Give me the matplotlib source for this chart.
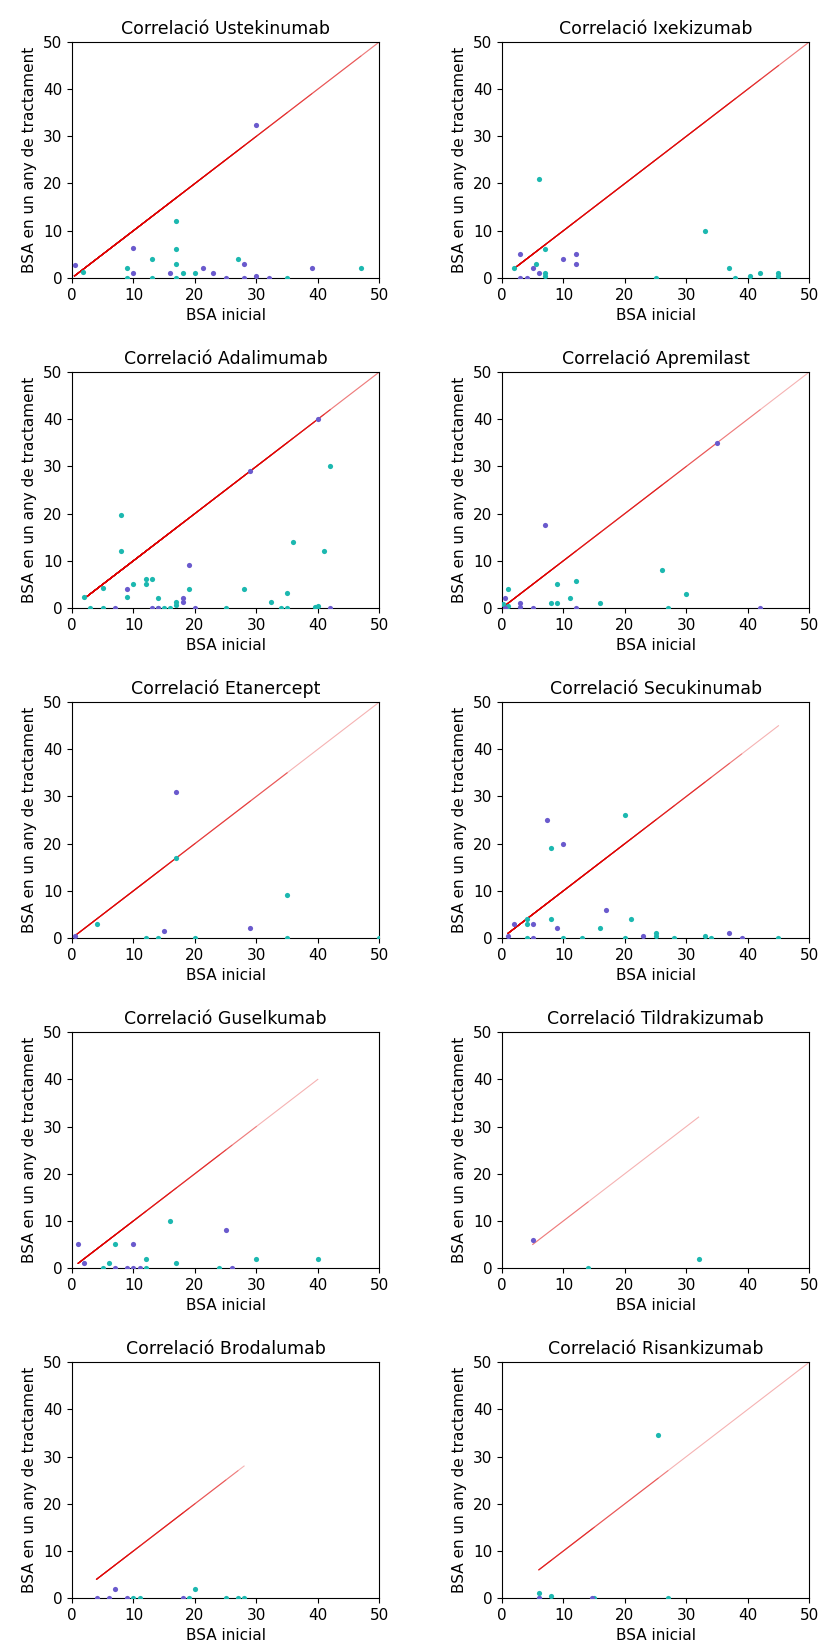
import numpy as np
import matplotlib.pyplot as plt

nan = np.nan

# (x = BSA inicial, y = BSA en un any de tractament), two groups per drug
titles = ["Ustekinumab", "Ixekizumab", "Adalimumab", "Apremilast", "Etanercept",
          "Secukinumab", "Guselkumab", "Tildrakizumab", "Brodalumab", "Risankizumab"]

ust_px = [0.4, 10, 10, 16, 21.3, 23, 25, 28, 28, 30, 30, 32, 39]
ust_py = [2.7, 6.3, 1, 1, 2.1, 1, 0, 3, 0, 32.5, 0.4, 0, 2]
ust_tx = [1.8, 9, 9, 13, 13, 17, 17, 17, 17, 18, 20, 27, 35, 47, 50, 50]
ust_ty = [1.2, 2, 0, 4, 0, 12, 6, 3, 0, 1, 1, 4, 0, 2, nan, nan]

ixe_px = [3, 3, 4, 5, 6, 10, 12, 12]
ixe_py = [5, 0, 0, 2, 1, 4, 5, 3]
ixe_tx = [2, 5.5, 6, 7, 7, 7, 25, 33, 37, 38, 40.4, 42, 45, 45, 50, 50]
ixe_ty = [2, 3, 21, 6, 1, 0.4, 0, 10, 2, 0, 0.4, 1, 1, 0.4, nan, nan]

ada_px = [9, 7, 13, 14, 18, 18, 19, 20, 29, 40, 42]
ada_py = [4.1, 0, 0, 0, 2.1, 1.2, 9.1, 0, 29, 40, 0]
ada_tx = [2, 3, 5, 5, 8, 8, 9, 10, 12, 12, 13, 14, 14, 15, 16, 17, 17, 19, 25,
          28, 32.4, 34, 35, 35, 36, 39.5, 40, 41, 42, 50, 50]
ada_ty = [2.2, 0, 4.3, 0, 19.6, 12.1, 2.2, 5.1, 6.1, 5.1, 6.1, 2.1, 0, 0, 0, 1.2,
          0.5, 4.1, 0, 4.1, 1.3, 0, 3.1, 0, 14, 0.1, 0.4, 12.1, 30.1, nan, nan]

apr_px = [0.5, 0.5, 3, 3, 5, 7, 12, 35, 42]
apr_py = [2, 0, 1.1, 0.2, 0, 17.6, 0, 35, 0]
apr_tx = [0.1, 1, 1, 8, 9, 9, 11, 12, 16, 26, 27, 30, 50]
apr_ty = [0.9, 4, 0.4, 1.1, 5, 1.1, 2, 5.6, 1.1, 8, 0, 3, nan]

eta_px = [0.4, 15, 17, 29]
eta_py = [0.4, 1.5, 31, 2]
eta_tx = [4, 12, 14, 17, 20, 35, 35, 50]
eta_ty = [3, 0, 0, 17, 0, 9, 0, 0]

sec_px = [1, 2, 5, 5, 7.3, 9, 10, 17, 23, 37, 39]
sec_py = [0.4, 3, 3, 0, 25, 2, 20, 6, 0.4, 1, 0]
sec_tx = [4, 4, 4, 8, 8, 10, 13, 16, 20, 20, 21, 25, 25, 28, 33, 34, 45]
sec_ty = [4, 3, 0, 19, 4, 0, 0, 2, 26, 0, 4, 1, 0.4, 0, 0.5, 0, 0]

gus_px = [1, 2, 7, 9, 10, 10, 11, 25, 26]
gus_py = [5, 1, 0, 0, 5, 0, 0, 8, 0]
gus_tx = [5, 6, 7, 12, 12, 16, 17, 24, 30, 40]
gus_ty = [0, 1, 5, 2, 0, 10, 1, 0, 2, 2]

til_px = [5]
til_py = [6]
til_tx = [14, 32]
til_ty = [0, 2]

bro_px = [4, 6, 7, 9, 18]
bro_py = [0, 0, 2, 0, 0]
bro_tx = [10, 11, 19, 20, 25, 27, 28]
bro_ty = [0, 0, 0, 2, 0, 0, 0]

ris_px = [6, 14.7]
ris_py = [0, 0]
ris_tx = [6, 6, 8, 15, 25.4, 27, 50]
ris_ty = [1, 0, 0.4, 0, 34.5, 0, nan]

groups = [
    (ust_px, ust_py, ust_tx, ust_ty), (ixe_px, ixe_py, ixe_tx, ixe_ty),
    (ada_px, ada_py, ada_tx, ada_ty), (apr_px, apr_py, apr_tx, apr_ty),
    (eta_px, eta_py, eta_tx, eta_ty), (sec_px, sec_py, sec_tx, sec_ty),
    (gus_px, gus_py, gus_tx, gus_ty), (til_px, til_py, til_tx, til_ty),
    (bro_px, bro_py, bro_tx, bro_ty), (ris_px, ris_py, ris_tx, ris_ty),
]

purple = "#6a5acd"
teal = "#1cb8b0"

fig, axs = plt.subplots(5, 2, figsize=(8.19, 16.48), dpi=100)
fig.subplots_adjust(left=0.088, right=0.988, top=0.9745, bottom=0.0303,
                    wspace=0.40, hspace=0.40)

for ax, name, (px, py, tx, ty) in zip(axs.flat, titles, groups):
    allx = np.array(px + tx, dtype=float)
    x0 = np.min(allx)
    # identity line, drawn once per patient so it darkens where data is dense
    for xi in allx:
        ax.plot([x0, xi], [x0, xi], color="#e00000", lw=0.8, alpha=0.3)
    ax.scatter(tx, ty, s=14, color=teal, linewidths=0, zorder=3)
    ax.scatter(px, py, s=14, color=purple, linewidths=0, zorder=3)
    ax.set_xlim(0, 50)
    ax.set_ylim(0, 50)
    ax.set_xticks([0, 10, 20, 30, 40, 50])
    ax.set_yticks([0, 10, 20, 30, 40, 50])
    ax.tick_params(labelsize=11)
    ax.set_title("Correlació " + name, fontsize=12.5)
    ax.set_xlabel("BSA inicial", fontsize=11)
    ax.set_ylabel("BSA en un any de tractament", fontsize=11)

fig.savefig("out.png", dpi=100)
